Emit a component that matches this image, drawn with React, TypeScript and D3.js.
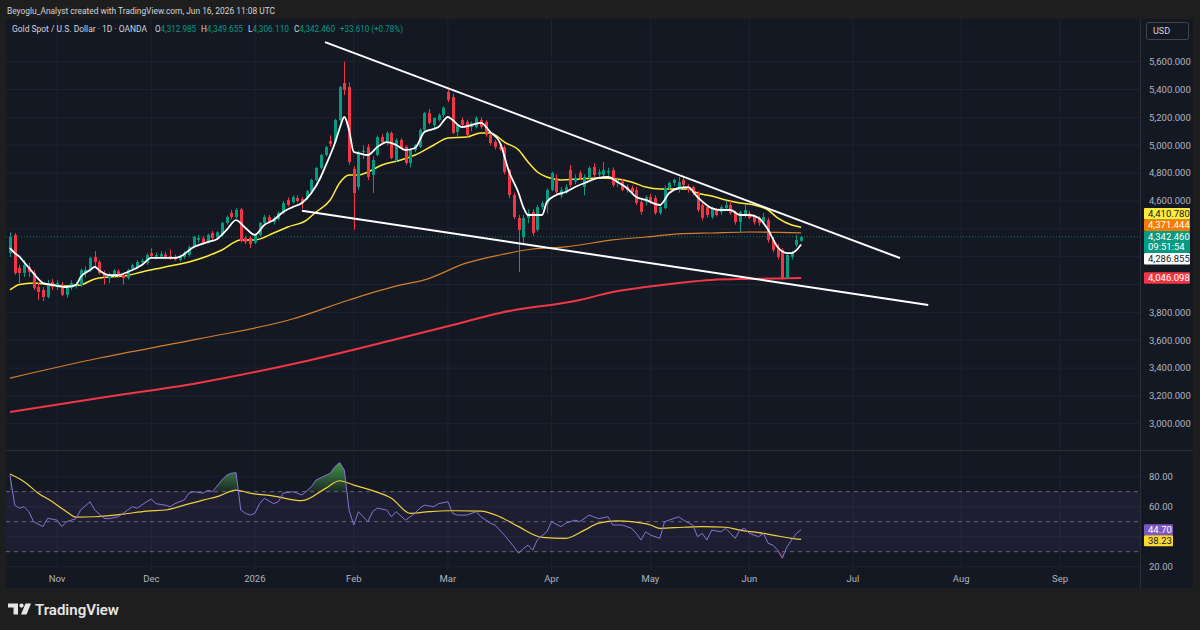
import React from "react";
import * as d3 from "d3";

// daily bars Oct 20 2025 .. Jun 16 2026, [open, high, low, close]
const candles: [number, number, number, number][] = [
  [4226, 4375, 4198, 4341], [4356, 4370, 4068, 4083], [4119, 4140, 4011, 4083], [4083, 4176, 4054, 4140],
  [4126, 4155, 4054, 4090], [4083, 4104, 3961, 3975], [3982, 4011, 3889, 3946], [3961, 3982, 3880, 3910],
  [3910, 4033, 3900, 4011], [4018, 4040, 3960, 3982], [3985, 4030, 3960, 4011], [4000, 4020, 3915, 3925],
  [3925, 3990, 3905, 3975], [3975, 4030, 3960, 4011], [3990, 4020, 3970, 4000], [3997, 4115, 3985, 4104],
  [4090, 4130, 4050, 4105], [4104, 4200, 4090, 4191], [4198, 4240, 4120, 4162], [4162, 4175, 4070, 4083],
  [4083, 4100, 4000, 4054], [4045, 4085, 4010, 4075], [4070, 4110, 4055, 4100], [4095, 4110, 4050, 4065],
  [4068, 4085, 4000, 4047], [4047, 4115, 4035, 4104], [4115, 4150, 4100, 4140], [4126, 4175, 4110, 4162],
  [4160, 4185, 4140, 4170], [4155, 4225, 4140, 4212], [4226, 4260, 4190, 4205], [4198, 4230, 4180, 4212],
  [4200, 4240, 4185, 4220], [4215, 4235, 4180, 4195], [4205, 4250, 4176, 4185], [4198, 4215, 4170, 4180],
  [4178, 4215, 4165, 4200], [4198, 4240, 4185, 4226], [4212, 4280, 4200, 4269], [4269, 4350, 4260, 4341],
  [4320, 4355, 4300, 4334], [4330, 4345, 4285, 4298], [4305, 4365, 4295, 4356], [4370, 4385, 4320, 4334],
  [4340, 4385, 4320, 4375], [4356, 4450, 4345, 4442], [4442, 4495, 4430, 4485], [4515, 4535, 4470, 4485],
  [4485, 4550, 4475, 4535], [4540, 4550, 4300, 4313], [4334, 4350, 4290, 4305], [4334, 4345, 4260, 4290],
  [4300, 4370, 4290, 4363], [4356, 4450, 4345, 4442], [4442, 4500, 4430, 4485], [4485, 4500, 4440, 4449],
  [4449, 4490, 4430, 4478], [4470, 4525, 4460, 4514], [4514, 4600, 4505, 4585], [4607, 4625, 4560, 4571],
  [4592, 4640, 4580, 4628], [4621, 4640, 4590, 4600], [4614, 4630, 4545, 4585], [4621, 4680, 4610, 4671],
  [4671, 4760, 4660, 4751], [4751, 4845, 4740, 4837], [4837, 4940, 4825, 4930], [4930, 4995, 4920, 4987],
  [5030, 5070, 4990, 5010], [5023, 5190, 5010, 5181], [5181, 5425, 5170, 5418], [5447, 5600, 5361, 5397],
  [5418, 5450, 4860, 4880], [4830, 4850, 4392, 4657], [4700, 4960, 4680, 4944], [4950, 5000, 4900, 4960],
  [4987, 5010, 4750, 4772], [4786, 4920, 4657, 4894], [4930, 5070, 4920, 5059], [5059, 5080, 5010, 5023],
  [5023, 5100, 5000, 5088], [5088, 5100, 4900, 4908], [4894, 5050, 4880, 5038], [5038, 5050, 4970, 4980],
  [4990, 5000, 4860, 4872], [4872, 4980, 4840, 4966], [4966, 5010, 4950, 5002], [4987, 5120, 4980, 5110],
  [5110, 5240, 5100, 5232], [5232, 5260, 5150, 5160], [5145, 5200, 5120, 5196], [5181, 5230, 5170, 5217],
  [5217, 5280, 5200, 5270], [5383, 5405, 5310, 5325], [5346, 5370, 5080, 5088], [5095, 5150, 5060, 5145],
  [5181, 5200, 5130, 5145], [5167, 5185, 5060, 5074], [5131, 5170, 5100, 5160], [5131, 5210, 5120, 5196],
  [5181, 5200, 5120, 5131], [5167, 5180, 5060, 5074], [5074, 5090, 5000, 5016], [5023, 5040, 4970, 4987],
  [4987, 5010, 4960, 4975], [4987, 5000, 4790, 4808], [4822, 4830, 4620, 4643], [4643, 4660, 4470, 4485],
  [4478, 4500, 4090, 4392], [4340, 4500, 4290, 4478], [4478, 4540, 4440, 4514], [4521, 4540, 4350, 4370],
  [4392, 4570, 4380, 4556], [4556, 4600, 4540, 4585], [4580, 4690, 4510, 4679], [4679, 4810, 4670, 4801],
  [4765, 4790, 4650, 4664], [4640, 4700, 4620, 4679], [4660, 4720, 4650, 4700], [4822, 4858, 4700, 4715],
  [4740, 4790, 4720, 4765], [4800, 4820, 4750, 4765], [4700, 4790, 4640, 4772], [4765, 4850, 4750, 4837],
  [4844, 4870, 4770, 4786], [4790, 4830, 4770, 4805], [4786, 4880, 4770, 4822], [4805, 4840, 4780, 4815],
  [4822, 4840, 4700, 4715], [4730, 4770, 4700, 4751], [4740, 4760, 4670, 4679], [4700, 4720, 4660, 4679],
  [4693, 4710, 4650, 4664], [4679, 4700, 4570, 4585], [4592, 4610, 4500, 4521], [4592, 4640, 4570, 4628],
  [4628, 4650, 4580, 4592], [4621, 4640, 4500, 4514], [4514, 4570, 4500, 4556], [4549, 4710, 4540, 4693],
  [4693, 4740, 4680, 4729], [4729, 4760, 4710, 4751], [4679, 4772, 4660, 4736], [4751, 4780, 4700, 4715],
  [4700, 4720, 4660, 4679], [4700, 4710, 4640, 4657], [4657, 4670, 4520, 4535], [4571, 4590, 4460, 4478],
  [4556, 4570, 4480, 4499], [4485, 4560, 4470, 4549], [4535, 4550, 4490, 4499], [4521, 4570, 4500, 4556],
  [4549, 4600, 4540, 4571], [4571, 4600, 4500, 4514], [4514, 4530, 4430, 4449], [4449, 4530, 4377, 4521],
  [4499, 4571, 4480, 4535], [4510, 4530, 4470, 4478], [4485, 4500, 4430, 4449], [4478, 4490, 4420, 4442],
  [4449, 4514, 4430, 4485], [4463, 4480, 4300, 4320], [4320, 4340, 4230, 4248], [4262, 4290, 4180, 4198],
  [4248, 4260, 4030, 4047], [4047, 4230, 4040, 4212], [4198, 4240, 4180, 4226], [4284, 4355, 4270, 4320],
  [4312.985, 4349.655, 4306.11, 4342.46],
];

// moving averages, [bar, price]
const emaFast: [number, number][] = [
  [0, 4262], [1, 4226], [2, 4200], [3, 4160], [4, 4120], [5, 4080], [6, 4040], [7, 4011], [9, 3997], [12, 3982],
  [14, 3997], [15, 4054], [17, 4104], [18, 4126], [19, 4100], [21, 4068], [23, 4068], [25, 4090], [28, 4140],
  [30, 4191], [35, 4191], [36, 4198], [39, 4269], [42, 4305], [44, 4327], [46, 4392], [48, 4463], [50, 4406],
  [52, 4356], [54, 4427], [56, 4463], [58, 4521], [60, 4556], [62, 4585], [64, 4657], [66, 4772], [67, 4850],
  [69, 5016], [70, 5120], [71, 5203], [72, 5110], [73, 4952], [74, 4944], [76, 4930], [78, 4987], [80, 5023],
  [82, 5002], [84, 4966], [86, 4980], [88, 5095], [91, 5131], [93, 5203], [94, 5181], [96, 5131], [98, 5145],
  [100, 5160], [102, 5095], [104, 5023], [106, 4808], [108, 4657], [109, 4556], [110, 4499], [113, 4499],
  [114, 4592], [116, 4643], [118, 4664], [120, 4700], [122, 4729], [125, 4765], [127, 4772], [129, 4736],
  [131, 4693], [133, 4628], [135, 4607], [138, 4571], [140, 4657], [142, 4693], [144, 4700], [146, 4628],
  [149, 4549], [151, 4535], [153, 4535], [155, 4499], [157, 4499], [159, 4478], [161, 4392], [163, 4269],
  [165, 4226], [166, 4226], [168, 4287],
];
const emaMid: [number, number][] = [
  [0, 3961], [2, 4000], [5, 4011], [8, 4000], [12, 3989], [15, 3997], [18, 4040], [21, 4054], [25, 4065],
  [28, 4090], [32, 4119], [35, 4140], [38, 4162], [42, 4205], [45, 4248], [49, 4320], [52, 4320], [56, 4370],
  [59, 4413], [63, 4463], [65, 4521], [68, 4607], [70, 4729], [72, 4786], [74, 4786], [76, 4808], [79, 4858],
  [83, 4894], [86, 4930], [90, 5002], [93, 5052], [97, 5059], [100, 5088], [102, 5088], [103, 5074],
  [105, 5023], [108, 4966], [110, 4880], [112, 4808], [114, 4772], [117, 4751], [121, 4758], [125, 4765],
  [129, 4758], [132, 4736], [135, 4700], [138, 4686], [144, 4686], [146, 4657], [149, 4635], [152, 4607],
  [155, 4585], [158, 4571], [161, 4535], [163, 4478], [166, 4427], [168, 4411],
];
const emaSlow: [number, number][] = [
  [0, 3328], [19, 3472], [40, 3609], [60, 3752], [72, 3889], [83, 3997], [88, 4033], [97, 4155], [104, 4212],
  [111, 4255], [118, 4270], [128, 4320], [135, 4341], [142, 4363], [149, 4370], [157, 4377], [168, 4371],
];
const ema200: [number, number][] = [
  [0, 3085], [19, 3185], [40, 3293], [62, 3444], [83, 3616], [94, 3709], [104, 3796], [121, 3889],
  [128, 3946], [135, 3982], [142, 4011], [149, 4033], [157, 4040], [168, 4046],
];

// RSI(14) and its moving average, [bar, value]
const rsi: [number, number][] = [
  [0, 81], [1, 61], [2, 59], [3, 60], [4, 56.7], [5, 50], [7, 46.7], [8, 52.3], [10, 51], [11, 46.7], [12, 50],
  [14, 52], [15, 57.8], [17, 63.3], [18, 57.8], [20, 52.2], [21, 52], [23, 53.3], [25, 57.8], [26, 60], [27, 59],
  [29, 63.3], [30, 65], [31, 62], [33, 61], [34, 60], [35, 62], [37, 64.5], [38, 69], [39, 70], [41, 69], [42, 71],
  [43, 70], [45, 77.8], [46, 81], [47, 82.3], [48, 82.7], [49, 57.8], [50, 55.6], [51, 54.4], [52, 55.6], [53, 62],
  [54, 65.6], [56, 62], [57, 63.3], [58, 69], [60, 70], [61, 69], [62, 67.8], [64, 73.3], [65, 77.8], [68, 82.3],
  [69, 86.7], [70, 89.4], [71, 84.4], [72, 57.8], [73, 47.8], [74, 56.7], [76, 50], [77, 56.7], [78, 59], [80, 57.8],
  [81, 53.3], [82, 56.7], [84, 51], [86, 55.6], [87, 59], [88, 61], [90, 60], [91, 62], [93, 63.3], [94, 55.6],
  [95, 54.4], [97, 54.4], [99, 56.7], [100, 53.3], [102, 49], [103, 47.8], [105, 41], [107, 33.3], [108, 29],
  [109, 32], [110, 34.4], [111, 31], [112, 38], [114, 43.3], [115, 50], [117, 46.7], [118, 49], [120, 51], [121, 50],
  [123, 54.4], [125, 52], [127, 53.3], [128, 47.8], [130, 47.8], [132, 45.6], [133, 42.2], [134, 37.8], [135, 43.3],
  [136, 41.1], [138, 38.9], [139, 50], [140, 51.1], [142, 53.3], [143, 51.1], [145, 47.8], [146, 40], [147, 42.2],
  [148, 37.8], [149, 44.4], [151, 43.3], [152, 45.6], [153, 42.2], [154, 38.9], [155, 44.4], [156, 45.6], [157, 42.2],
  [159, 40], [160, 42.2], [161, 35.6], [162, 34.4], [163, 31.1], [164, 25.6], [165, 33.3], [166, 37.8], [167, 42.2],
  [168, 44.7],
];
const rsiMa: [number, number][] = [
  [0, 81.8], [3, 76.7], [6, 69], [9, 63.3], [12, 56.7], [14, 53], [18, 53.3], [24, 55], [29, 57.1], [33, 57.8],
  [37, 61], [41, 64.4], [44, 66.7], [48, 71.1], [51, 69], [56, 67.1], [62, 64], [67, 72.2], [70, 77.3], [73, 74.4],
  [77, 70.7], [81, 65.6], [85, 55.6], [89, 56.7], [93, 57.3], [100, 57.1], [104, 53.3], [108, 46.7], [113, 39.6],
  [118, 38.9], [122, 44.4], [125, 49], [129, 50.5], [132, 50], [136, 47.8], [138, 45.6], [143, 46.3], [147, 46.7],
  [152, 46.3], [155, 44.4], [159, 42.7], [162, 41.1], [166, 38.9], [168, 38.23],
];

// hand drawn wedge, [bar, price]
const upperTrend: [number, number][] = [[66.9, 5741], [189, 4190]];
const lowerTrend: [number, number][] = [[62, 4530], [195, 3853]];

const monthTicks: [string, number][] = [
  ["Nov", 10], ["Dec", 30], ["2026", 52], ["Feb", 73], ["Mar", 93], ["Apr", 115],
  ["May", 136], ["Jun", 157], ["Jul", 179], ["Aug", 202], ["Sep", 223],
];
const priceTicks = [3000, 3200, 3400, 3600, 3800, 4000, 4200, 4400, 4600, 4800, 5000, 5200, 5400, 5600];
const rsiTicks = [20, 40, 60, 80];
const rsiLevels = [70, 50, 30];

const lastFast = 4286.855;
const lastMid = 4410.78;
const lastSlow = 4371.444;
const last200 = 4046.098;
const lastRsi = 44.7;
const lastRsiMa = 38.23;
const countdown = "09:51:54";

const UP = "#089981";
const DOWN = "#f23645";
const BG = "#141823";
const GRID = "#1f2330";
const TXT = "#b2b5be";
const FONT = "Roboto, 'Noto Sans', sans-serif";

const PL = 6, PR = 1140, AR = 1193;
const MT = 19, MB = 450, RT = 451, RB = 570, TB = 588;

const x = d3.scaleLinear().domain([0, 223]).range([10, 10 + 223 * 4.709]);
const y = d3.scaleLinear().domain([3000, 5600]).range([423.75, 61.7]);
const ry = d3.scaleLinear().domain([20, 80]).range([566.7, 476.7]);

const fmt = d3.format(",.3f");

const priceLine = d3.line<[number, number]>().x((d) => x(d[0])).y((d) => y(d[1]));
const smoothLine = d3.line<[number, number]>().x((d) => x(d[0])).y((d) => y(d[1])).curve(d3.curveMonotoneX);
const rsiLine = d3.line<[number, number]>().x((d) => x(d[0])).y((d) => ry(d[1]));
const rsiSmooth = d3.line<[number, number]>().x((d) => x(d[0])).y((d) => ry(d[1])).curve(d3.curveMonotoneX);
const obArea = d3.area<[number, number]>().x((d) => x(d[0])).y0(ry(70)).y1((d) => ry(d[1]));
const osArea = d3.area<[number, number]>().x((d) => x(d[0])).y0(ry(30)).y1((d) => ry(d[1]));

type Lbl = { v: number; bg: string; fg: string; text: string; top?: number };

function stackLabels() {
  const h = 11.5;
  const close = candles[candles.length - 1][3];
  const cy = y(close);
  const closeTop = cy - h / 2;
  const closeH = 22;
  const above: Lbl[] = [
    { v: lastSlow, bg: "#f57c00", fg: "#ffffff", text: fmt(lastSlow) },
    { v: lastMid, bg: "#ffeb3b", fg: "#131722", text: fmt(lastMid) },
  ];
  const below: Lbl[] = [
    { v: lastFast, bg: "#ffffff", fg: "#131722", text: fmt(lastFast) },
    { v: last200, bg: "#f23645", fg: "#ffffff", text: fmt(last200) },
  ];
  let lim = closeTop;
  above.sort((a, b) => y(b.v) - y(a.v)).forEach((l) => {
    const bottom = Math.min(y(l.v) + h / 2, lim);
    l.top = bottom - h;
    lim = l.top;
  });
  lim = closeTop + closeH;
  below.sort((a, b) => y(a.v) - y(b.v)).forEach((l) => {
    l.top = Math.max(y(l.v) - h / 2, lim);
    lim = l.top + h;
  });
  return { h, close, closeTop, closeH, labels: [...above, ...below] };
}

function TvLogo() {
  return (
    <g fill="#e6e6e6">
      <path d="M8 603.5 H18 V614.5 H13.5 V607.5 H8 Z" />
      <circle cx={21.5} cy={605.6} r={2.1} />
      <path d="M25.5 603.5 H31 L26.5 614.5 H21 Z" />
      <text x={35} y={614.5} fontFamily={FONT} fontSize={15} fontWeight={600}>TradingView</text>
    </g>
  );
}

export default function App() {
  const st = stackLabels();
  // boxes on the price scale hide the tick labels beneath them
  const boxes: [number, number][] = [
    ...st.labels.map((l) => [l.top || 0, (l.top || 0) + st.h] as [number, number]),
    [st.closeTop, st.closeTop + st.closeH],
    [ry(lastRsi) - 5.5, ry(lastRsi) + 16.5],
  ];
  const free = (yy: number) => boxes.every(([a, b]) => yy + 4 < a || yy - 4 > b);
  const legendParts: [number, number, string, string][] = [
    [155, 41, "O", "4,312.985"], [201, 42, "H", "4,349.655"], [248, 41, "L", "4,306.110"], [294, 41, "C", "4,342.460"],
  ];
  return (
    <div style={{ position: "fixed", left: 0, top: 0 }}>
      <svg width={1200} height={630} style={{ display: "block" }}>
        <defs>
          <clipPath id="mainClip"><rect x={PL} y={MT} width={PR - PL} height={MB - MT} /></clipPath>
          <clipPath id="rsiClip"><rect x={PL} y={RT} width={PR - PL} height={RB - RT} /></clipPath>
          <clipPath id="obClip"><rect x={PL} y={RT} width={PR - PL} height={ry(70) - RT} /></clipPath>
          <clipPath id="osClip"><rect x={PL} y={ry(30)} width={PR - PL} height={RB - ry(30)} /></clipPath>
          <linearGradient id="obGrad" gradientUnits="userSpaceOnUse" x1={0} x2={0} y1={ry(90)} y2={ry(70)}>
            <stop offset="0" stopColor="#4caf50" stopOpacity={0.85} />
            <stop offset="1" stopColor="#4caf50" stopOpacity={0.12} />
          </linearGradient>
          <linearGradient id="osGrad" gradientUnits="userSpaceOnUse" x1={0} x2={0} y1={ry(30)} y2={ry(20)}>
            <stop offset="0" stopColor="#f23645" stopOpacity={0.12} />
            <stop offset="1" stopColor="#f23645" stopOpacity={0.85} />
          </linearGradient>
        </defs>

        <rect width={1200} height={630} fill="#1e1e1e" />
        <text x={7} y={13.5} fill="#d1d4dc" fontFamily={FONT} fontSize={9.5} textLength={268} lengthAdjust="spacingAndGlyphs">
          Beyoglu_Analyst created with TradingView.com, Jun 16, 2026 11:08 UTC
        </text>
        <rect x={PL} y={MT} width={AR - PL} height={TB - MT} fill={BG} />

        {/* grid */}
        {priceTicks.map((p) => (
          <line key={p} x1={PL} x2={PR} y1={y(p)} y2={y(p)} stroke={GRID} />
        ))}
        {rsiTicks.map((v) => (
          <line key={v} x1={PL} x2={PR} y1={ry(v)} y2={ry(v)} stroke={GRID} />
        ))}
        {monthTicks.map(([m, b]) => (
          <line key={m} x1={x(b)} x2={x(b)} y1={MT} y2={RB} stroke={GRID} />
        ))}

        {/* main pane */}
        <g clipPath="url(#mainClip)">
          <line x1={PL} x2={PR} y1={y(st.close)} y2={y(st.close)} stroke={UP} strokeOpacity={0.7} strokeDasharray="1 2" />
          <path d={smoothLine(ema200) || ""} fill="none" stroke="#f23645" strokeWidth={2} />
          <path d={smoothLine(emaSlow) || ""} fill="none" stroke="#e8892b" strokeWidth={1.2} strokeOpacity={0.9} />
          <path d={smoothLine(emaMid) || ""} fill="none" stroke="#ffeb3b" strokeWidth={1.5} />
          {candles.map(([o, h, l, c], i) => {
            const col = c >= o ? UP : DOWN;
            const cx = Math.round(x(i)) + 0.5;
            const top = y(Math.max(o, c));
            const bot = y(Math.min(o, c));
            return (
              <g key={i}>
                <line x1={cx} x2={cx} y1={y(h)} y2={y(l)} stroke={col} />
                <rect x={cx - 1.5} y={top} width={3} height={Math.max(1, bot - top)} fill={col} />
              </g>
            );
          })}
          <path d={smoothLine(emaFast) || ""} fill="none" stroke="#ffffff" strokeWidth={1.8} />
          <path d={priceLine(upperTrend) || ""} fill="none" stroke="#ffffff" strokeWidth={2} />
          <path d={priceLine(lowerTrend) || ""} fill="none" stroke="#ffffff" strokeWidth={2} />
        </g>

        {/* legend */}
        <text x={12} y={32} fontFamily={FONT} fontSize={9} fill="#d1d4dc" textLength={135} lengthAdjust="spacingAndGlyphs">
          Gold Spot / U.S. Dollar · 1D · OANDA
        </text>
        {legendParts.map(([lx, w, k, v]) => (
          <text key={k} x={lx} y={32} fontFamily={FONT} fontSize={9} fill="#d1d4dc" textLength={w} lengthAdjust="spacingAndGlyphs">
            {k}<tspan fill={UP}>{v}</tspan>
          </text>
        ))}
        <text x={340} y={32} fontFamily={FONT} fontSize={9} fill={UP} textLength={63} lengthAdjust="spacingAndGlyphs">
          +33.610 (+0.78%)
        </text>

        {/* RSI pane */}
        <line x1={PL} x2={AR} y1={MB + 0.5} y2={MB + 0.5} stroke="#2a2e39" />
        <g clipPath="url(#rsiClip)">
          <rect x={PL} y={ry(70)} width={PR - PL} height={ry(30) - ry(70)} fill="#7e57c2" fillOpacity={0.1} />
          {rsiLevels.map((v) => (
            <line key={v} x1={PL} x2={PR} y1={ry(v)} y2={ry(v)} stroke="#787b86" strokeDasharray="4 4" strokeOpacity={0.8} />
          ))}
          <path d={obArea(rsi) || ""} fill="url(#obGrad)" clipPath="url(#obClip)" />
          <path d={osArea(rsi) || ""} fill="url(#osGrad)" clipPath="url(#osClip)" />
          <path d={rsiSmooth(rsiMa) || ""} fill="none" stroke="#f2d03b" strokeWidth={1.2} />
          <path d={rsiLine(rsi) || ""} fill="none" stroke="#8a72d6" strokeWidth={1} />
        </g>

        {/* time axis */}
        {monthTicks.map(([m, b]) => (
          <text key={m} x={x(b)} y={581.5} textAnchor="middle" fill={TXT} fontFamily={FONT} fontSize={9.5}>{m}</text>
        ))}

        {/* price axis */}
        <line x1={PR + 0.5} x2={PR + 0.5} y1={MT} y2={TB} stroke="#2a2e39" />
        {priceTicks.filter((p) => free(y(p))).map((p) => (
          <text key={p} x={1149} y={y(p) + 3.3} fill={TXT} fontFamily={FONT} fontSize={9.5}>{fmt(p)}</text>
        ))}
        {rsiTicks.filter((v) => free(ry(v))).map((v) => (
          <text key={v} x={1149} y={ry(v) + 3.3} fill={TXT} fontFamily={FONT} fontSize={9.5}>{v.toFixed(2)}</text>
        ))}
        {st.labels.map((l) => (
          <g key={l.text}>
            <rect x={1144} y={l.top} width={46} height={st.h} fill={l.bg} rx={1} />
            <text x={1148} y={(l.top || 0) + 8.6} fill={l.fg} fontFamily={FONT} fontSize={9.5}>{l.text}</text>
          </g>
        ))}
        <rect x={1144} y={st.closeTop} width={46} height={st.closeH} fill={UP} rx={1} />
        <text x={1148} y={st.closeTop + 8.6} fill="#ffffff" fontFamily={FONT} fontSize={9.5}>{fmt(st.close)}</text>
        <text x={1148} y={st.closeTop + 18.8} fill="#ffffff" fontFamily={FONT} fontSize={9.5}>{countdown}</text>

        <rect x={1144} y={ry(lastRsi) - 5.5} width={29} height={11} fill="#7e57c2" rx={1} />
        <text x={1148} y={ry(lastRsi) + 3.2} fill="#ffffff" fontFamily={FONT} fontSize={9.5}>{lastRsi.toFixed(2)}</text>
        <rect x={1144} y={ry(lastRsi) + 5.5} width={29} height={11} fill="#fdd835" rx={1} />
        <text x={1148} y={ry(lastRsi) + 14.2} fill="#131722" fontFamily={FONT} fontSize={9.5}>{lastRsiMa.toFixed(2)}</text>

        <rect x={1146.5} y={22.5} width={42} height={17} fill={BG} stroke="#434651" rx={2} />
        <text x={1153} y={34} fill="#d1d4dc" fontFamily={FONT} fontSize={9}>USD</text>

        <TvLogo />
      </svg>
    </div>
  );
}
